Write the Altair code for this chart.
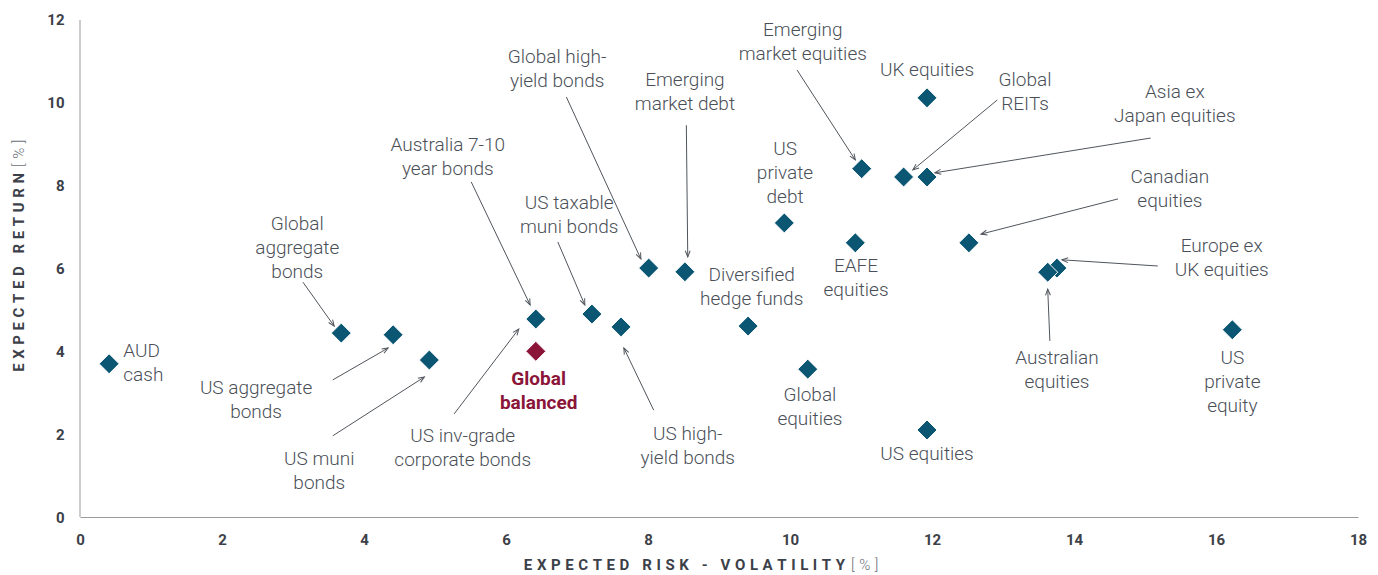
import math
import altair as alt
import pandas as pd

# ---------------- data ----------------
names = [
    "AUD cash", "Global aggregate bonds", "US aggregate bonds", "US muni bonds",
    "US inv-grade corporate bonds", "Australia 7-10 year bonds", "US taxable muni bonds",
    "US high-yield bonds", "Global high-yield bonds", "Emerging market debt",
    "Diversified hedge funds", "US private debt", "Global equities", "EAFE equities",
    "Emerging market equities", "UK equities", "Global REITs", "Asia ex Japan equities",
    "US equities", "Canadian equities", "Europe ex UK equities", "Australian equities",
    "US private equity", "Global balanced",
]
risk = [0.41, 3.68, 4.41, 4.92, 6.42, 6.42, 7.21, 7.62, 8.01, 8.52, 9.41, 9.92, 10.25,
        10.92, 11.01, 11.93, 11.60, 11.93, 11.93, 12.52, 13.76, 13.63, 16.23, 6.42]
ret = [3.70, 4.44, 4.40, 3.79, 4.78, 4.78, 4.90, 4.59, 6.01, 5.92, 4.61, 7.10, 3.57,
       6.62, 8.41, 10.12, 8.21, 8.21, 2.10, 6.62, 6.01, 5.91, 4.52, 4.00]
kind = ["asset"] * 23 + ["portfolio"]

# label text (lines) and position of the first line, in data units
label_lines = [
    ["AUD", "cash"], ["Global", "aggregate", "bonds"], ["US aggregate", "bonds"],
    ["US muni", "bonds"], ["US inv-grade", "corporate bonds"], ["Australia 7-10", "year bonds"],
    ["US taxable", "muni bonds"], ["US high-", "yield bonds"], ["Global high-", "yield bonds"],
    ["Emerging", "market debt"], ["Diversified", "hedge funds"], ["US", "private", "debt"],
    ["Global", "equities"], ["EAFE", "equities"], ["Emerging", "market equities"],
    ["UK equities"], ["Global", "REITs"], ["Asia ex", "Japan equities"], ["US equities"],
    ["Canadian", "equities"], ["Europe ex", "UK equities"], ["Australian", "equities"],
    ["US", "private", "equity"], ["Global", "balanced"],
]
label_x = [0.61, 3.06, 2.48, 3.37, 5.39, 5.18, 6.89, 8.56, 6.72, 8.52, 9.46, 9.93, 10.28,
           10.93, 10.18, 11.93, 13.31, 15.42, 11.93, 15.35, 16.08, 13.76, 16.23, 6.46]
label_y = [4.01, 7.07, 3.11, 1.40, 1.96, 8.98, 7.58, 2.00, 11.11, 10.55, 5.84, 8.89, 2.95,
           6.06, 11.76, 10.79, 10.55, 10.26, 1.52, 8.21, 6.54, 3.84, 3.84, 3.33]

# leader arrows (from label to point), data units
arrow_x1 = [3.14, 3.56, 3.56, 5.27, 5.51, 6.73, 8.08, 6.85, 8.54, 10.10, 12.92, 15.08, 14.62, 15.18, 13.66]
arrow_y1 = [5.67, 3.31, 1.96, 2.49, 8.09, 6.64, 2.58, 10.14, 9.46, 10.79, 10.07, 9.15, 7.68, 6.06, 4.25]
arrow_x2 = [3.58, 4.34, 4.85, 6.18, 6.34, 7.11, 7.66, 7.90, 8.56, 10.92, 11.73, 12.04, 12.69, 13.83, 13.63]
arrow_y2 = [4.61, 4.08, 3.38, 4.54, 5.12, 5.12, 4.08, 6.23, 6.28, 8.62, 8.38, 8.31, 6.83, 6.21, 5.50]

x_ticks = [0, 2, 4, 6, 8, 10, 12, 14, 16, 18]
y_ticks = [0, 2, 4, 6, 8, 10, 12]

# ---------------- layout / style ----------------
W, H = 1278, 505
X_MAX = 18
Y_TOP = 12          # last labelled value
Y_DOM = 12.193      # a little headroom so the plot can start higher on the page
TEAL = "#0a5673"
RED = "#8a1538"
TXT = "#4a4f58"
AX = "#3c4048"
DOMAIN_C = "#9b9b9b"
LABEL_FONT = "Roboto"
AXIS_FONT = "Roboto"

pts = pd.DataFrame({"name": names, "risk": risk, "ret": ret, "kind": kind,
                    "order": list(range(len(names)))})

lab = pd.DataFrame({"lines": label_lines, "x": label_x, "y": label_y, "name": names})

px_x, px_y = W / X_MAX, H / Y_DOM
angles = []
for a, b, c, d in zip(arrow_x1, arrow_y1, arrow_x2, arrow_y2):
    dx = (c - a) * px_x
    dy = -(d - b) * px_y
    angles.append(math.degrees(math.atan2(dx, -dy)) % 360)
arr = pd.DataFrame({"x": arrow_x1, "y": arrow_y1, "x2": arrow_x2, "y2": arrow_y2, "ang": angles})

xs = alt.Scale(domain=[0, X_MAX], nice=False, zero=True)
ys = alt.Scale(domain=[0, Y_DOM], nice=False, zero=True)

x_axis = alt.Axis(values=x_ticks, format="d", title=None, grid=False, ticks=False, domainColor=DOMAIN_C,
                  labelFont=AXIS_FONT, labelFontWeight="bold", labelFontSize=15, labelColor=AX,
                  labelPadding=15, labelFlush=False)
y_axis = alt.Axis(values=y_ticks, format="d", title=None, grid=False, ticks=False, domain=False,
                  labelFont=AXIS_FONT, labelFontWeight="bold", labelFontSize=15, labelColor=AX,
                  labelPadding=16, labelFlush=False)

points = alt.Chart(pts).mark_point(shape="diamond", filled=True, size=400, opacity=1,
                                   stroke="white", strokeWidth=1).encode(
    x=alt.X("risk:Q", scale=xs, axis=x_axis),
    y=alt.Y("ret:Q", scale=ys, axis=y_axis),
    fill=alt.Fill("kind:N", scale=alt.Scale(domain=["asset", "portfolio"], range=[TEAL, RED]), legend=None),
    order=alt.Order("order:Q"),
)

yline = alt.Chart(pd.DataFrame({"x": [0], "y": [0], "y2": [Y_TOP]})).mark_rule(
    color=DOMAIN_C, strokeWidth=1).encode(
    x=alt.X("x:Q", scale=xs), y=alt.Y("y:Q", scale=ys), y2="y2:Q")

rules = alt.Chart(arr).mark_rule(color="#50555c", strokeWidth=1).encode(
    x=alt.X("x:Q", scale=xs), y=alt.Y("y:Q", scale=ys), x2="x2:Q", y2="y2:Q")

heads = alt.Chart(arr).mark_point(shape="M-0.4,1L0,0L0.4,1", filled=False, size=150,
                                  strokeWidth=1, color="#50555c", opacity=1).encode(
    x=alt.X("x2:Q", scale=xs), y=alt.Y("y2:Q", scale=ys), angle=alt.Angle("ang:Q", scale=None))

common_text = dict(font=LABEL_FONT, fontSize=19, lineHeight=24, baseline="middle")

lab_center = alt.Chart(lab).transform_filter(
    "datum.name != 'AUD cash' && datum.name != 'Global balanced'"
).mark_text(align="center", color=TXT, fontWeight=300, **common_text).encode(
    x=alt.X("x:Q", scale=xs), y=alt.Y("y:Q", scale=ys), text="lines")

lab_left = alt.Chart(lab).transform_filter("datum.name == 'AUD cash'").mark_text(
    align="left", color=TXT, fontWeight=300, **common_text).encode(
    x=alt.X("x:Q", scale=xs), y=alt.Y("y:Q", scale=ys), text="lines")

lab_bal = alt.Chart(lab).transform_filter("datum.name == 'Global balanced'").mark_text(
    align="center", color=RED, fontWeight="bold", **common_text).encode(
    x=alt.X("x:Q", scale=xs), y=alt.Y("y:Q", scale=ys), text="lines")

SP = "\u2009\u200a"
def spaced(s):
    return SP.join(list(s))

one = pd.DataFrame({"k": [0]})
xt_bold = alt.Chart(one).mark_text(font=AXIS_FONT, fontWeight="bold", fontSize=15, color=AX,
                                   align="right", baseline="middle").encode(
    x=alt.value(765), y=alt.value(553), text=alt.value(spaced("EXPECTED RISK - VOLATILITY")))
xt_pct = alt.Chart(one).mark_text(font=AXIS_FONT, fontWeight=300, fontSize=15, color="#6b7078",
                                  align="left", baseline="middle").encode(
    x=alt.value(771), y=alt.value(553), text=alt.value("[" + SP + "%" + SP + "]"))
yt_bold = alt.Chart(one).mark_text(font=AXIS_FONT, fontWeight="bold", fontSize=15, color=AX,
                                   align="right", baseline="middle", angle=270).encode(
    x=alt.value(-61), y=alt.value(161), text=alt.value(spaced("EXPECTED RETURN")))
yt_pct = alt.Chart(one).mark_text(font=AXIS_FONT, fontWeight=300, fontSize=15, color="#6b7078",
                                  align="left", baseline="middle", angle=270).encode(
    x=alt.value(-61), y=alt.value(155), text=alt.value("[" + SP + "%" + SP + "]"))

chart = alt.layer(
    yline, rules, heads, points, lab_center, lab_left, lab_bal, xt_bold, xt_pct, yt_bold, yt_pct
).properties(
    width=W, height=H,
    autosize=alt.AutoSizeParams(type="none"),
    padding={"left": 72, "top": 4, "right": 12, "bottom": 58},
    view=alt.ViewBackground(strokeWidth=0, strokeOpacity=0, stroke="transparent"),
).configure_view(strokeWidth=0, strokeOpacity=0, stroke="transparent").configure(background="white")

chart.save("out.html", embed_options={"renderer": "svg", "actions": False})
